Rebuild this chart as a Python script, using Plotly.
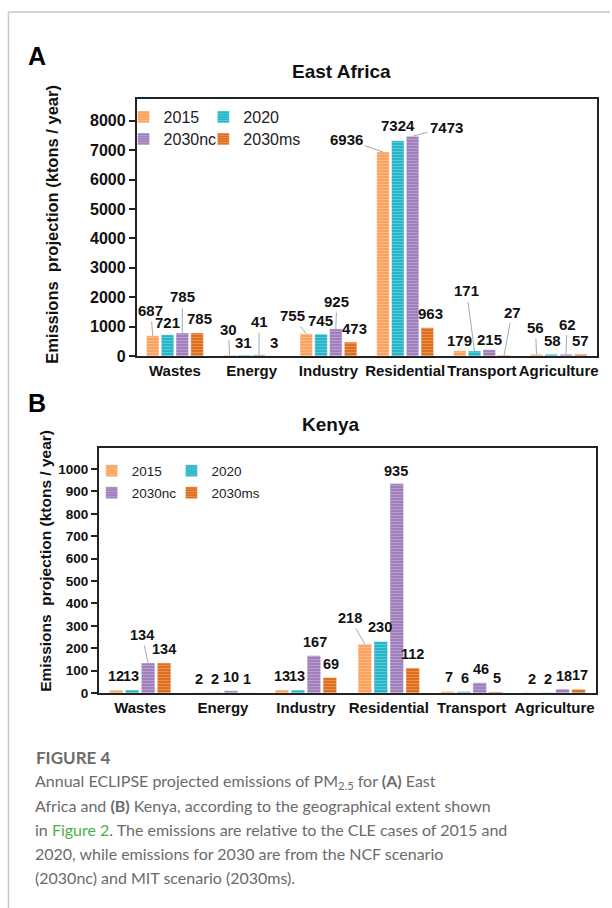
import plotly.graph_objects as go

# ---------------- data ----------------
categories = ["Wastes", "Energy", "Industry", "Residential", "Transport", "Agriculture"]
series_names = ["2015", "2020", "2030nc", "2030ms"]

ea_2015 = [687, 30, 755, 6936, 179, 56]
ea_2020 = [721, 31, 745, 7324, 171, 58]
ea_2030nc = [785, 41, 925, 7473, 215, 62]
ea_2030ms = [785, 3, 473, 963, 27, 57]

ke_2015 = [12, 2, 13, 218, 7, 2]
ke_2020 = [13, 2, 13, 230, 6, 2]
ke_2030nc = [134, 10, 167, 935, 46, 18]
ke_2030ms = [134, 1, 69, 112, 5, 17]

ea_yticks = [0, 1000, 2000, 3000, 4000, 5000, 6000, 7000, 8000]
ke_yticks = [0, 100, 200, 300, 400, 500, 600, 700, 800, 900, 1000]

# ---------------- style / layout ----------------
W, H = 612, 908          # reference picture size (positions below are in these pixels)
FIG_H = 917              # figure height that fills the browser viewport
colors = ["#FBA35E", "#27B5CA", "#A07FBC", "#E06D1C"]
BARGAP = 0.23
BARGROUPGAP = 0.15
FONT = "Liberation Sans, Arial, sans-serif"

# label offsets in pixels (dx, dy from bar top), and whether a leader line is drawn
ea_label_style = [
    [(-2, -25, True), (0, -12, False), (0, -36, True), (2, -14, False)],
    [(-1, -26, True), (-1, -13, False), (0, -33, True), (0, -13, False)],
    [(-14, -18, True), (-1, -14, False), (1, -27, True), (4, -14, False)],
    [(-37, -13, True), (0, -15, False), (34, -9, True), (3, -14, False)],
    [(0, -10, False), (-8, -60, True), (0, -10, False), (8, -43, True)],
    [(-1, -27, True), (1, -14, False), (1, -30, True), (0, -14, False)],
]
ke_label_style = [
    [(0, -14, False), (-1, -14, False), (-6, -28, True), (0, -14, False)],
    [(0, -14, False), (0, -14, False), (0, -14, False), (0, -14, False)],
    [(0, -14, False), (-1, -14, False), (1, -14, False), (1, -14, False)],
    [(-15, -26, True), (-1, -14, False), (-1, -13, False), (0, -14, False)],
    [(1, -14, False), (1, -14, False), (1, -14, False), (1, -14, False)],
    [(1, -14, False), (1, -14, False), (1, -13, False), (1, -14, False)],
]

# legend item positions (left x, centre y) in pixels, one legend per entry
ea_legend_pos = [(124, 117), (204, 117), (124, 139), (204, 139)]
ke_legend_pos = [(92, 471), (172, 471), (92, 493), (172, 493)]


def px_x(x):
    return x / W


def px_y(y):
    return 1 - y / H


fig = go.Figure()

ea_series = [ea_2015, ea_2020, ea_2030nc, ea_2030ms]
ke_series = [ke_2015, ke_2020, ke_2030nc, ke_2030ms]


def bar_marker(c):
    return dict(color=c, line=dict(color="rgba(255,255,255,0.5)", width=0.8),
                pattern=dict(shape="-", fillmode="overlay", fgcolor="rgba(255,255,255,0.55)",
                             size=3, solidity=0.3))


legend_ids = ["legend"] + ["legend%d" % k for k in range(2, 9)]

for i, (name, vals) in enumerate(zip(series_names, ea_series)):
    fig.add_trace(go.Bar(x=categories, y=vals, name=name, xaxis="x", yaxis="y",
                         legend=legend_ids[i], marker=bar_marker(colors[i]), showlegend=True))
for i, (name, vals) in enumerate(zip(series_names, ke_series)):
    fig.add_trace(go.Bar(x=categories, y=vals, name=name, xaxis="x2", yaxis="y2",
                         legend=legend_ids[4 + i], marker=bar_marker(colors[i]), showlegend=True))

annotations = []
slot = (1 - BARGAP) / len(series_names)


def add_labels(series, styles, xref, yref, size):
    for si, vals in enumerate(series):
        off = (si - (len(series) - 1) / 2) * slot
        for ci, v in enumerate(vals):
            dx, dy, leader = styles[ci][si]
            base = dict(x=ci + off, y=v, xref=xref, yref=yref, text=str(v),
                        font=dict(family=FONT, size=size, color="#111", weight="bold"))
            if leader:
                base.update(showarrow=True, ax=dx, ay=dy, arrowhead=0, arrowwidth=1,
                            arrowcolor="#a8a8a8", standoff=0, startstandoff=1)
            else:
                base.update(showarrow=False, xshift=dx, yshift=-dy, xanchor="center",
                            yanchor="middle")
            annotations.append(base)


add_labels(ea_series, ea_label_style, "x", "y", 15)
add_labels(ke_series, ke_label_style, "x2", "y2", 14.5)


def paper_text(text, x, y, size, angle=0, color="#111", family=FONT, xanchor="center"):
    return dict(text=text, x=px_x(x), y=px_y(y), xref="paper", yref="paper",
                xanchor=xanchor, yanchor="middle", textangle=angle, showarrow=False,
                font=dict(family=family, size=size, color=color))


annotations += [
    paper_text("<b>A</b>", 37, 56, 25, color="#000"),
    paper_text("<b>B</b>", 37, 403, 25, color="#000"),
    paper_text("<b>East Africa</b>", 343, 71, 19),
    paper_text("<b>Kenya</b>", 332, 424, 19),
    paper_text("<b>Emissions  projection (ktons / year)</b>", 52, 224, 16.5, angle=-90),
    paper_text("<b>Emissions  projection (ktons / year)</b>", 45, 561, 15.5, angle=-90),
]

# caption
CAP_FAMILY = "Lato, Open Sans, sans-serif"
caption_lines = [
    "Annual ECLIPSE projected emissions of PM<sub>2.5</sub> for <b>(A)</b> East",
    "Africa and <b>(B)</b> Kenya, according to the geographical extent shown",
    "in <span style='color:#4CB04C'>Figure 2</span>. The emissions are relative to the CLE cases of 2015 and",
    "2020, while emissions for 2030 are from the NCF scenario",
    "(2030nc) and MIT scenario (2030ms).",
]
annotations.append(paper_text("<b>FIGURE 4</b>", 34, 757, 17, color="#6b6b6b",
                              family=CAP_FAMILY, xanchor="left"))
for k, line in enumerate(caption_lines):
    annotations.append(paper_text(line, 33, 781 + 24 * k, 16, color="#6b6b6b",
                                  family=CAP_FAMILY, xanchor="left"))

axis_common = dict(showline=True, linecolor="#222", linewidth=1.5, mirror=True, showgrid=False,
                   zeroline=False)

fig.update_layout(
    width=W, height=FIG_H, autosize=False,
    margin=dict(l=0, r=0, t=0, b=0),
    paper_bgcolor="white", plot_bgcolor="white",
    showlegend=True, hovermode=False,
    barmode="group", bargap=BARGAP, bargroupgap=BARGROUPGAP,
    xaxis=dict(domain=[px_x(137), px_x(599)], anchor="y", type="category",
               categoryorder="array", categoryarray=categories, range=[-0.5, 5.5],
               ticks="", tickfont=dict(family=FONT, size=15, color="#111", weight="bold"),
               **axis_common),
    yaxis=dict(domain=[px_y(356), px_y(99)], anchor="x", range=[0, 8740],
               tickvals=ea_yticks, ticks="outside", ticklen=6, tickwidth=1.5, tickcolor="#222",
               tickfont=dict(family=FONT, size=16, color="#111", weight="bold"),
               **axis_common),
    xaxis2=dict(domain=[px_x(99), px_x(598)], anchor="y2", type="category",
                categoryorder="array", categoryarray=categories, range=[-0.5, 5.5],
                ticks="", tickfont=dict(family=FONT, size=15, color="#111", weight="bold"),
                **axis_common),
    yaxis2=dict(domain=[px_y(693), px_y(448)], anchor="x2", range=[0, 1094],
                tickvals=ke_yticks, ticks="outside", ticklen=6, tickwidth=1.5, tickcolor="#222",
                tickfont=dict(family=FONT, size=13.5, color="#111", weight="bold"),
                **axis_common),
    annotations=annotations,
    shapes=[
        dict(type="line", xref="paper", yref="paper", x0=px_x(8.5), x1=1.0, y0=px_y(12), y1=px_y(12),
             line=dict(color="#c8c8c8", width=1.5)),
        dict(type="line", xref="paper", yref="paper", x0=px_x(8.5), x1=px_x(8.5), y0=px_y(12), y1=0,
             line=dict(color="#c8c8c8", width=1.5)),
    ],
)

leg_common = dict(orientation="h", xanchor="left", yanchor="middle", bgcolor="rgba(0,0,0,0)",
                  itemwidth=30, visible=True)
legend_layout = {}
for k, (lx, ly) in enumerate(ea_legend_pos + ke_legend_pos):
    fsize = 16 if k < 4 else 13.5
    legend_layout[legend_ids[k]] = dict(x=px_x(lx), y=px_y(ly),
                                        font=dict(family=FONT, size=fsize, color="#222"),
                                        **leg_common)
fig.update_layout(**legend_layout)

fig.write_html("out.html", config={"displayModeBar": False},
               post_script=("document.documentElement.style.margin='0';"
                            "document.body.style.margin='0';"
                            "document.body.style.overflow='hidden';"))
